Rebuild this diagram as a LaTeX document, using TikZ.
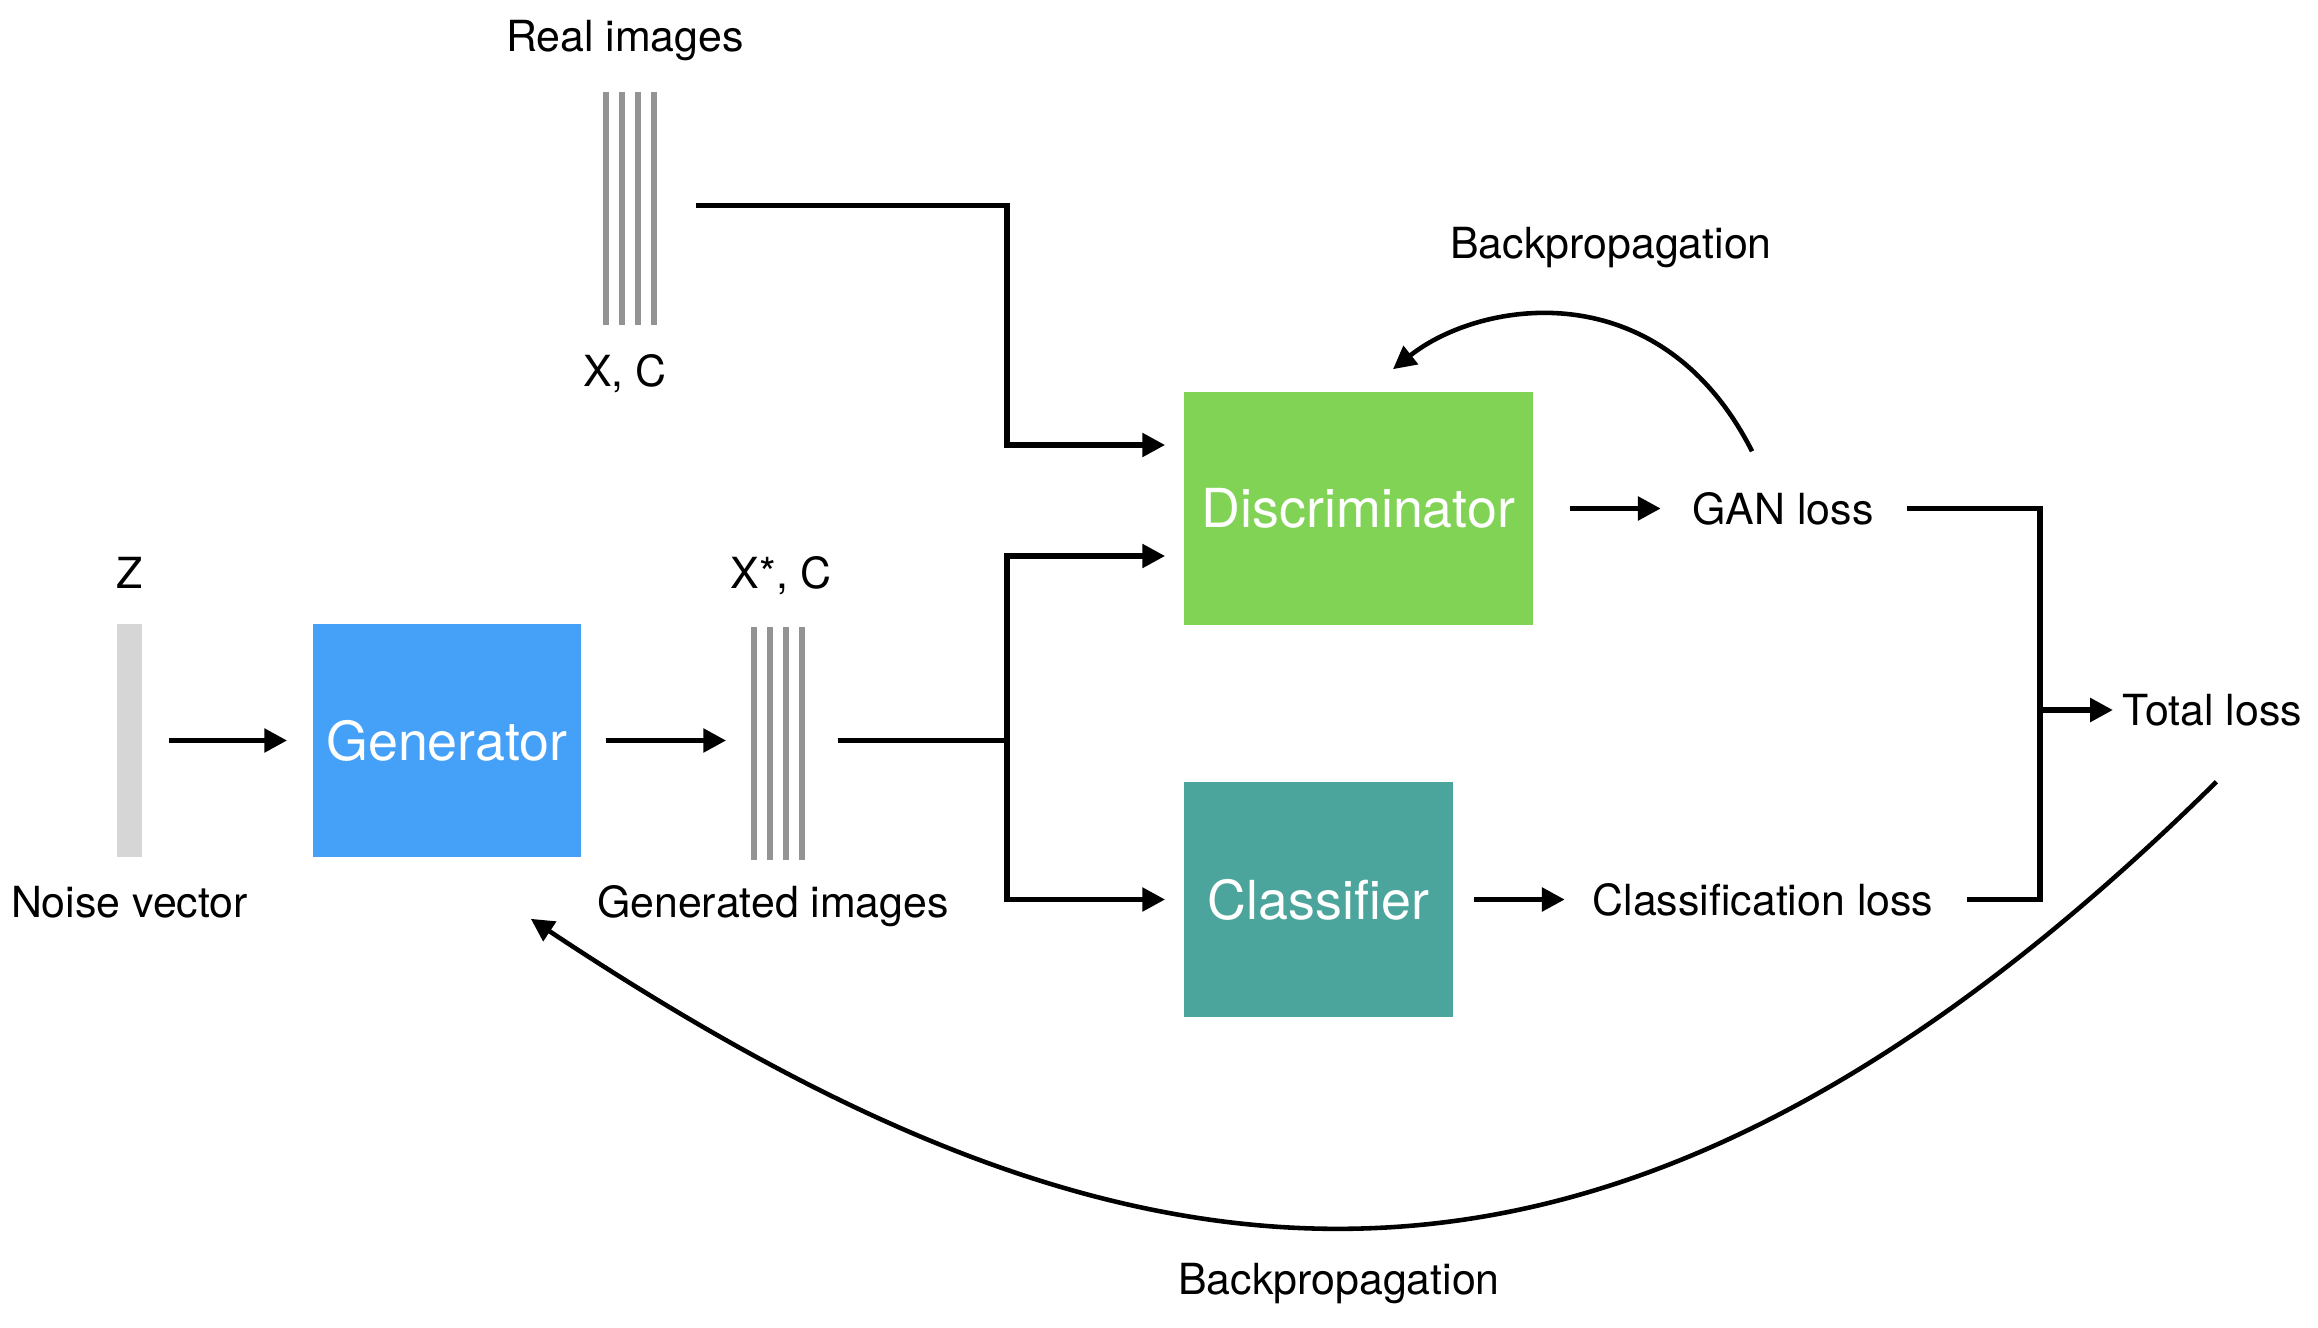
\documentclass[tikz,border=0pt]{standalone}
\usepackage{fontspec}
\setmainfont{TeX Gyre Heros}
\usepackage{xcolor}
\usetikzlibrary{arrows.meta, positioning, calc}

\definecolor{genblue}{RGB}{69,161,247}
\definecolor{discgreen}{RGB}{129,211,86}
\definecolor{clsteal}{RGB}{75,165,156}
\definecolor{bargray}{RGB}{147,147,147}
\definecolor{noisegray}{RGB}{214,214,214}

\begin{document}
\begin{tikzpicture}[->, >={Triangle[length=6.5pt, width=6.5pt]}, line width=1.6pt, font=\fontsize{12.2}{15}\selectfont]
  \tikzstyle{block} = [rectangle, inner sep=0pt, minimum height=2.33cm, text=white, font=\fontsize{15.3}{18}\selectfont]
  \tikzstyle{stack} = [rectangle, inner sep=0pt, minimum width=0.54cm, minimum height=2.33cm]
  \tikzstyle{tag} = [inner sep=0pt, text height=0.72em, text depth=0.21em]
  \tikzstyle{loss} = [inner sep=0pt]
  \tikzstyle{backprop} = [line width=1.3pt]

  \useasboundingbox (0,0) rectangle (23.18,-13.28);

  % main blocks
  \node[block, fill=genblue, minimum width=2.68cm] (gen) at (4.47,-7.405) {Generator};
  \node[block, fill=discgreen, minimum width=3.49cm] (disc) at (13.585,-5.085) {Discriminator};
  \node[block, fill=clsteal, minimum width=2.69cm, minimum height=2.35cm] (cls) at (13.185,-8.995) {Classifier};

  % image stacks
  \node[stack, fill=noisegray, minimum width=0.25cm] (noise) at (1.295,-7.405) {};
  \node[stack] (fake) at (7.81,-7.405) {};
  \node[stack] (real) at (6.33,-2.055) {};
  \foreach \s in {real, fake}
    \foreach \i in {0,...,3}
      \fill[bargray] ([xshift=\i*0.16cm]\s.south west) rectangle ++(0.06,2.33);

  % stack labels
  \node[tag, above=0.24cm of real, xshift=-0.08cm] (realtop) {Real images};
  \node[tag, below=0.34cm of real, xshift=-0.08cm] (realxc) {X, C};
  \node[tag, above=0.23cm of noise] (noisez) {Z};
  \node[tag, below=0.30cm of noise] (noisetxt) {Noise vector};
  \node[tag, above=0.23cm of fake] (fakexc) {X*, C};
  \node[tag, below=0.30cm of fake, xshift=-0.08cm] (faketxt) {Generated images};

  % losses
  \node[loss, right=1.54cm of disc] (gan) {GAN loss};
  \node[loss, right=1.34cm of cls] (clsloss) {Classification loss};
  \coordinate (jn) at (20.40,-7.10);
  \node[loss, right=0.80cm of jn] (total) {Total loss};
  \coordinate (split) at (10.07,-7.405);

  % connectors
  \draw[shorten <=0.24cm, shorten >=0.23cm] (noise) -- (gen);
  \draw[shorten <=0.22cm, shorten >=0.25cm] (gen) -- (fake);
  \draw[-, shorten <=0.27cm] (fake) -- (split);
  \draw[shorten >=0.16cm] (split) |- ([yshift=-0.475cm]disc.west);
  \draw[shorten >=0.16cm] (split) |- (cls.west);
  \draw[shorten <=0.33cm, shorten >=0.16cm] (real) -- (real -| split) |- ([yshift=0.635cm]disc.west);
  \draw[shorten <=0.34cm, shorten >=0.29cm] (disc) -- (gan);
  \draw[shorten <=0.18cm, shorten >=0.25cm] (cls) -- (clsloss);
  \draw[-, shorten <=0.31cm, shorten >=0.31cm] (gan) -| (jn) |- (clsloss);
  \draw[shorten >=0.07cm] (jn) -- (total);

  % backpropagation
  \draw[backprop] ([xshift=-0.31cm, yshift=0.38cm]gan.north) .. controls (16.6,-2.7) and (14.8,-3.0) .. ([xshift=0.345cm, yshift=0.2cm]disc.north);
  \draw[backprop] ([xshift=0.04cm, yshift=-0.53cm]total.south) .. controls (15.95,-13.95) and (11.2,-13.1) .. ([xshift=-0.53cm, yshift=-0.59cm]gen.south east);
  \node[tag] (bptop) at (16.11,-2.50) {Backpropagation};
  \node[tag] (bpbottom) at (13.39,-12.86) {Backpropagation};
\end{tikzpicture}
\end{document}
